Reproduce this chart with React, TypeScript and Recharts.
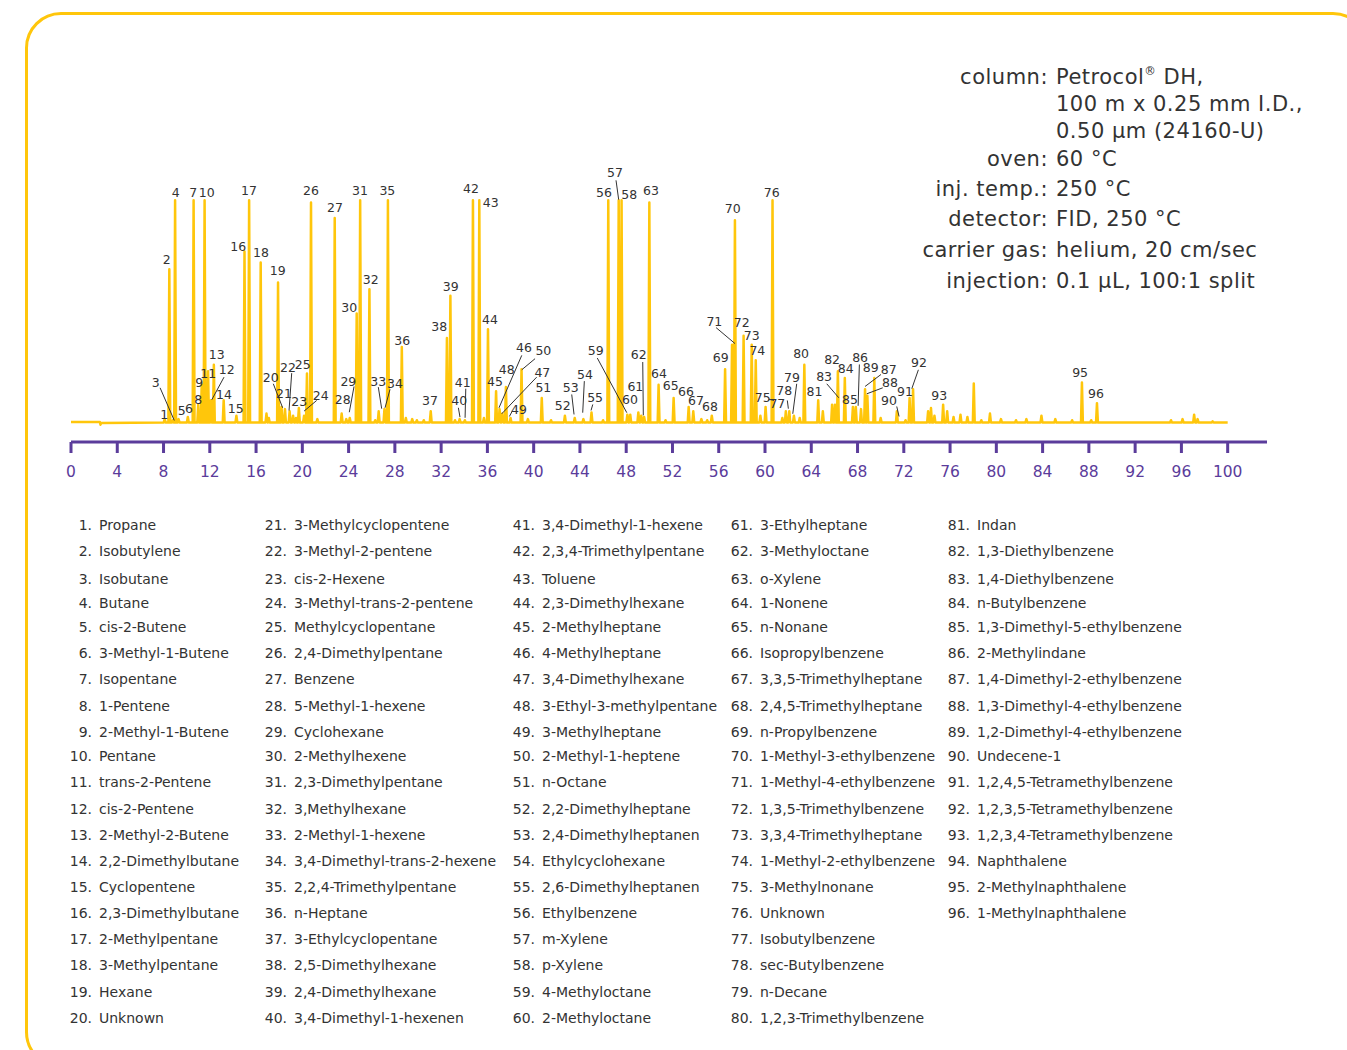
import { ComposedChart, Line, Scatter, XAxis, YAxis, ReferenceLine } from "recharts";

// retention time (min) and height (% of full scale)
const peaks: [number, number][] = [
  [8.1, 1.5], [8.5, 69], [8.8, 1], [9.0, 100], [9.3, 1.5], [10.1, 2.5], [10.6, 100],
  [11.0, 8], [11.3, 17], [11.55, 100], [11.85, 23], [12.1, 10], [12.35, 26], [13.2, 10],
  [14.3, 3], [15.0, 77], [15.4, 100], [16.4, 72], [17.9, 63], [18.2, 7], [18.5, 6],
  [18.9, 5], [19.7, 6.5], [20.15, 3], [20.4, 22], [20.75, 99], [22.8, 92], [23.4, 4],
  [24.1, 2], [24.7, 49], [25.0, 100], [25.8, 60], [26.6, 5], [27.1, 6], [27.4, 100],
  [28.6, 34], [31.1, 5], [32.5, 38], [32.8, 57], [33.6, 1.5], [34.05, 1], [34.75, 100],
  [35.3, 100], [36.05, 42], [36.75, 14], [37.05, 6], [37.3, 4], [37.6, 16], [38.0, 2],
  [38.95, 24], [40.7, 11], [42.7, 3], [43.55, 2], [44.3, 1.5], [45.0, 4.5], [46.45, 100],
  [47.35, 100], [47.6, 100], [48.1, 3.5], [48.35, 3.5], [49.05, 4.5], [49.55, 2.5],
  [50.0, 99], [50.8, 17], [52.1, 11], [53.4, 7], [53.8, 5], [55.4, 3], [56.55, 24],
  [57.15, 35], [57.4, 91], [58.15, 39], [58.85, 35], [59.2, 28], [60.05, 7], [60.65, 100],
  [61.8, 5], [62.1, 5], [62.5, 3], [63.4, 26], [64.6, 10], [66.05, 8], [66.3, 23],
  [66.9, 20], [67.85, 7], [68.3, 6], [68.65, 15], [68.85, 12], [69.45, 20], [71.4, 5],
  [72.5, 11], [72.8, 15], [75.4, 8], [78.05, 17.5], [87.4, 18], [88.7, 8.7],
];

// small unlabeled bumps on the baseline
const minorPeaks: [number, number][] = [
  [16.9, 4], [17.1, 2], [19.2, 3], [19.45, 2], [21.3, 1.5], [23.8, 1.5], [26.3, 1],
  [28.95, 2], [29.5, 1.5], [29.9, 1], [30.5, 1], [33.2, 1], [35.7, 2], [39.5, 1.5],
  [41.5, 1], [46.0, 1], [49.3, 3], [51.4, 1], [54.5, 1.5], [55.0, 1], [59.6, 3],
  [61.5, 2], [63.0, 2], [65.0, 5], [65.8, 8], [67.6, 7], [70.0, 2], [72.15, 1],
  [74.1, 5], [74.35, 6.5], [74.65, 3], [75.75, 5], [76.3, 2.5], [76.9, 3.5], [77.5, 2.5],
  [78.7, 1], [79.45, 4], [80.4, 1.5], [81.7, 1], [82.6, 1.5], [83.9, 3], [85.1, 1.5],
  [86.55, 1], [88.2, 1], [95.1, 1], [96.1, 1.5], [97.1, 3.5], [97.4, 1.5], [98.7, 0.5],
];

// peak number, label time, label height
const peakLabels: [number, number, number][] = [
  [1, 8.07, 3.6], [2, 8.27, 73.3], [3, 7.32, 18.2], [4, 9.05, 103.7], [5, 9.57, 5.4],
  [6, 10.2, 6.4], [7, 10.57, 103.3], [8, 11.01, 10.2], [9, 11.09, 18], [10, 11.73, 103.7],
  [11, 11.87, 22.2], [12, 13.46, 23.7], [13, 12.6, 30.6], [14, 13.23, 12.6], [15, 14.24, 6.2],
  [16, 14.46, 79.3], [17, 15.39, 104.2], [18, 16.43, 76.7], [19, 17.87, 68.2], [20, 17.27, 20.1],
  [21, 18.42, 13.2], [22, 18.76, 24.9], [23, 19.74, 9.6], [24, 21.59, 12.2], [25, 20.03, 26.1],
  [26, 20.75, 104.2], [27, 22.83, 96.7], [28, 23.49, 10.2], [29, 23.98, 18.6], [30, 24.06, 51.7],
  [31, 24.99, 104.2], [32, 25.91, 64.3], [33, 26.57, 18.6], [34, 28.01, 17.4], [35, 27.35, 104.2],
  [36, 28.64, 36.9], [37, 31.04, 9.9], [38, 31.84, 43.2], [39, 32.83, 61.3], [40, 33.57, 9.9],
  [41, 33.87, 18.2], [42, 34.58, 105.3], [43, 36.29, 99], [44, 36.23, 46.3], [45, 36.66, 18.6],
  [46, 39.17, 33.6], [47, 40.75, 22.5], [48, 37.67, 23.7], [49, 38.73, 6], [50, 40.84, 32.4],
  [51, 40.84, 15.6], [52, 42.51, 7.7], [53, 43.2, 15.6], [54, 44.44, 21.6], [55, 45.31, 11.1],
  [56, 46.08, 103.7], [57, 47.03, 112.3], [58, 48.27, 102.7], [59, 45.37, 32.4], [60, 48.33, 10.2],
  [61, 48.79, 16.2], [62, 49.08, 30.5], [63, 50.15, 104.2], [64, 50.84, 22.2], [65, 51.85, 16.7],
  [66, 53.17, 14], [67, 54.04, 9.9], [68, 55.25, 7.2], [69, 56.17, 29.1], [70, 57.21, 96.3],
  [71, 55.62, 45.6], [72, 57.99, 45.2], [73, 58.85, 39.2], [74, 59.34, 32.4], [75, 59.8, 11.4],
  [76, 60.58, 103.7], [77, 61.07, 8.7], [78, 61.67, 14.4], [79, 62.34, 20.4], [80, 63.12, 31.2],
  [81, 64.27, 14.1], [82, 65.8, 28.2], [83, 65.11, 20.7], [84, 66.98, 24.2], [85, 67.35, 10.2],
  [86, 68.22, 29.1], [87, 70.7, 23.7], [88, 70.81, 17.9], [89, 69.14, 24.6], [90, 70.72, 9.9],
  [91, 72.11, 14.1], [92, 73.32, 27.2], [93, 75.07, 12.2], [95, 87.24, 22.7], [96, 88.62, 12.9],
];

// leader lines: from (t1, h1) to (t2, h2)
const leaders: [number, number, number, number][] = [
  [7.7, 15.6, 8.93, 0.9], [13.23, 20.4, 12.17, 10.2], [17.49, 17.4, 18.3, 6.6],
  [19.08, 22.2, 18.85, 5.4], [21.24, 9.9, 20.15, 5.1], [24.47, 16.2, 24.06, 4.6],
  [26.57, 15.9, 26.86, 6.2], [27.58, 14.9, 27.15, 6.6], [33.49, 6.6, 33.63, 2.4],
  [34.13, 15.2, 34.07, 2.1], [38.97, 30.2, 37.0, 6.6], [40.26, 20.4, 37.24, 3.9],
  [38.15, 5.1, 37.9, 2.7], [40.12, 28.7, 38.97, 23.7], [43.29, 12.6, 43.49, 3.6],
  [44.38, 18.6, 44.24, 4.4], [45.11, 8.1, 44.96, 5.4], [47.12, 109, 47.35, 100.3],
  [45.5, 29, 48.05, 4.4], [49.43, 27.2, 49.48, 3.2], [55.77, 42.7, 57.41, 35.5],
  [60.29, 10.5, 60.78, 9.9], [61.93, 9.9, 62.02, 6.2], [62.74, 17.4, 62.4, 3.9],
  [65.34, 17.4, 66.38, 11.1], [68.16, 26.1, 68.05, 7.5], [70.03, 21.6, 68.65, 16.2],
  [70.18, 15.6, 68.8, 12.9], [71.39, 7.2, 71.59, 2.7], [73.26, 23.7, 72.69, 15.2],
];

const timeTicks = [0, 4, 8, 12, 16, 20, 24, 28, 32, 36, 40, 44, 48, 52, 56, 60, 64, 68, 72, 76, 80, 84, 88, 92, 96, 100];

const compounds = [
  "Propane", "Isobutylene", "Isobutane", "Butane", "cis-2-Butene", "3-Methyl-1-Butene",
  "Isopentane", "1-Pentene", "2-Methyl-1-Butene", "Pentane", "trans-2-Pentene", "cis-2-Pentene",
  "2-Methyl-2-Butene", "2,2-Dimethylbutane", "Cyclopentene", "2,3-Dimethylbutane",
  "2-Methylpentane", "3-Methylpentane", "Hexane", "Unknown",
  "3-Methylcyclopentene", "3-Methyl-2-pentene", "cis-2-Hexene", "3-Methyl-trans-2-pentene",
  "Methylcyclopentane", "2,4-Dimethylpentane", "Benzene", "5-Methyl-1-hexene", "Cyclohexane",
  "2-Methylhexene", "2,3-Dimethylpentane", "3,Methylhexane", "2-Methyl-1-hexene",
  "3,4-Dimethyl-trans-2-hexene", "2,2,4-Trimethylpentane", "n-Heptane", "3-Ethylcyclopentane",
  "2,5-Dimethylhexane", "2,4-Dimethylhexane", "3,4-Dimethyl-1-hexenen",
  "3,4-Dimethyl-1-hexene", "2,3,4-Trimethylpentane", "Toluene", "2,3-Dimethylhexane",
  "2-Methylheptane", "4-Methylheptane", "3,4-Dimethylhexane", "3-Ethyl-3-methylpentane",
  "3-Methylheptane", "2-Methyl-1-heptene", "n-Octane", "2,2-Dimethylheptane",
  "2,4-Dimethylheptanen", "Ethylcyclohexane", "2,6-Dimethylheptanen", "Ethylbenzene",
  "m-Xylene", "p-Xylene", "4-Methyloctane", "2-Methyloctane",
  "3-Ethylheptane", "3-Methyloctane", "o-Xylene", "1-Nonene", "n-Nonane", "Isopropylbenzene",
  "3,3,5-Trimethylheptane", "2,4,5-Trimethylheptane", "n-Propylbenzene", "1-Methyl-3-ethylbenzene",
  "1-Methyl-4-ethylbenzene", "1,3,5-Trimethylbenzene", "3,3,4-Trimethylheptane",
  "1-Methyl-2-ethylbenzene", "3-Methylnonane", "Unknown", "Isobutylbenzene", "sec-Butylbenzene",
  "n-Decane", "1,2,3-Trimethylbenzene",
  "Indan", "1,3-Diethylbenzene", "1,4-Diethylbenzene", "n-Butylbenzene",
  "1,3-Dimethyl-5-ethylbenzene", "2-Methylindane", "1,4-Dimethyl-2-ethylbenzene",
  "1,3-Dimethyl-4-ethylbenzene", "1,2-Dimethyl-4-ethylbenzene", "Undecene-1",
  "1,2,4,5-Tetramethylbenzene", "1,2,3,5-Tetramethylbenzene", "1,2,3,4-Tetramethylbenzene",
  "Naphthalene", "2-Methylnaphthalene", "1-Methylnaphthalene",
];

const conditionLabels = ["column:", "", "", "oven:", "inj. temp.:", "detector:", "carrier gas:", "injection:"];
const conditionValues = [
  "Petrocol® DH,", "100 m x 0.25 mm I.D.,", "0.50 µm (24160-U)", "60 °C", "250 °C",
  "FID, 250 °C", "helium, 20 cm/sec", "0.1 µL, 100:1 split",
];

const YELLOW = "#ffc60b";
const PURPLE = "#5b3c9b";
const TEXT = "#333";
const FONT = "'DejaVu Sans', Verdana, sans-serif";
const HALF = 0.08;

const trace = [...peaks, ...minorPeaks]
  .sort((a, b) => a[0] - b[0])
  .flatMap(([t, h]) => [
    { t: t - HALF, v: 0 },
    { t, v: h },
    { t: t + HALF, v: 0 },
  ]);
const chromData = [{ t: 0, v: 0.2 }, { t: 2.5, v: 0.2 }, { t: 2.55, v: -1 }, { t: 2.6, v: -0.3 }, ...trace, { t: 100, v: 0 }];
const labelData = peakLabels.map(([n, t, h]) => ({ n, t, h }));

const PeakLabel = (props: any) => (
  <text x={props.cx} y={props.cy} textAnchor="middle" dominantBaseline="central" fontSize={12.5} fill={TEXT} fontFamily={FONT}>
    {props.payload.n}
  </text>
);

const TimeTick = ({ x, y, payload }: any) => (
  <text x={x} y={y} dy={22} textAnchor="middle" fontSize={15.5} fill={PURPLE} fontFamily={FONT}>
    {payload.value}
  </text>
);

// ® drawn as a superscript
const withMark = (s: string) => {
  const parts = s.split("®");
  if (parts.length < 2) return s;
  return (
    <>
      {parts[0]}
      <sup style={{ fontSize: "0.55em", verticalAlign: "0.8em", lineHeight: 0 }}>®</sup>
      {parts[1]}
    </>
  );
};

const rowY = [525, 551, 579, 603, 627, 653, 679, 706, 732, 756, 782, 809, 835, 861, 887, 913, 939, 965, 992, 1018];
const colNameLeft = [99, 294, 542, 760, 977];
const conditionRowY = [77, 104, 131, 159, 189, 219, 250, 281];

export default function App() {
  return (
    <div style={{ position: "absolute", left: 0, top: 0, width: 1347, height: 1050, overflow: "hidden", background: "#fff", fontFamily: FONT, color: TEXT }}>
      <div style={{ position: "absolute", left: 25, top: 12, width: 1338, height: 1050, border: `3px solid ${YELLOW}`, borderRadius: 36 }} />

      <div style={{ position: "absolute", left: 0, top: 0 }}>
        <ComposedChart width={1347} height={500} margin={{ top: 167, right: 80, bottom: 18, left: 71 }}>
          <XAxis
            dataKey="t"
            type="number"
            domain={[0, 103.4]}
            allowDataOverflow
            ticks={timeTicks}
            interval={0}
            height={40}
            tickSize={11}
            axisLine={{ stroke: PURPLE, strokeWidth: 3 }}
            tickLine={{ stroke: PURPLE, strokeWidth: 3 }}
            tick={<TimeTick />}
          />
          <YAxis type="number" domain={[-8.8, 115]} allowDataOverflow hide />
          <Line
            data={chromData}
            dataKey="v"
            type="linear"
            stroke={YELLOW}
            strokeWidth={2.5}
            strokeLinejoin="round"
            dot={false}
            activeDot={false}
            isAnimationActive={false}
          />
          {leaders.map(([t1, h1, t2, h2], i) => (
            <ReferenceLine key={i} segment={[{ x: t1, y: h1 }, { x: t2, y: h2 }]} stroke={TEXT} strokeWidth={1} />
          ))}
          <Scatter data={labelData} dataKey="h" shape={<PeakLabel />} isAnimationActive={false} />
        </ComposedChart>
      </div>

      {conditionLabels.map((label, i) => (
        <div key={i} style={{ position: "absolute", top: conditionRowY[i] - 13, height: 26, lineHeight: "26px", fontSize: 21, letterSpacing: 0.5, left: 0, width: 1347 }}>
          <span style={{ position: "absolute", right: 1347 - 1048, whiteSpace: "nowrap" }}>{label}</span>
          <span style={{ position: "absolute", left: 1056, whiteSpace: "nowrap" }}>{withMark(conditionValues[i])}</span>
        </div>
      ))}

      {compounds.map((name, i) => {
        const col = Math.floor(i / 20);
        const row = i % 20;
        const top = rowY[row] - 10;
        return (
          <div key={i} style={{ position: "absolute", top, left: 0, height: 20, lineHeight: "20px", fontSize: 14 }}>
            <span style={{ position: "absolute", right: -(colNameLeft[col] - 7), whiteSpace: "nowrap" }}>{i + 1}.</span>
            <span style={{ position: "absolute", left: colNameLeft[col], whiteSpace: "nowrap" }}>{name}</span>
          </div>
        );
      })}
    </div>
  );
}
